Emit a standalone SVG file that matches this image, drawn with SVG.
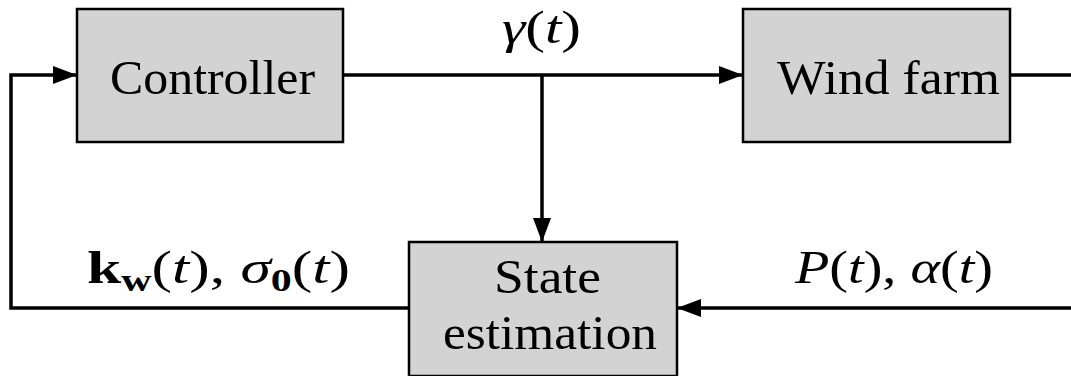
<svg xmlns="http://www.w3.org/2000/svg" width="1071" height="376" viewBox="0 0 1071 376">
<style>
.box{fill:#d3d3d3;stroke:#000;stroke-width:2.5}
.lbl{font-family:"Liberation Serif",serif;font-size:49px;fill:#000}
.math{font-family:"Liberation Serif",serif;font-size:47px;fill:#000}
.it{font-style:italic}
.bf{font-weight:bold}
.wire{fill:none;stroke:#000;stroke-width:3.5}
</style>
<defs>
<marker id="ah" markerWidth="24" markerHeight="18" refX="24" refY="9" orient="auto" markerUnits="userSpaceOnUse">
<path d="M0,0 L24,9 L0,18 z" fill="#000"/>
</marker>
</defs>
<rect width="1071" height="376" fill="#fff"/>
<g id="connectors">
<path class="wire" d="M343,75 H743" marker-end="url(#ah)"/>
<path class="wire" d="M1010,75 H1075 V308 H677" marker-end="url(#ah)"/>
<path class="wire" d="M542,75 V242" marker-end="url(#ah)"/>
<path class="wire" d="M409,308 H11 V75 H77" marker-end="url(#ah)"/>
</g>
<g id="controller">
<rect class="box" x="77" y="9" width="266" height="133"/>
<text class="lbl" x="110" y="94" textLength="205" lengthAdjust="spacingAndGlyphs">Controller</text>
</g>
<g id="windfarm">
<rect class="box" x="743" y="9" width="267" height="133"/>
<text class="lbl" x="777" y="94" textLength="223" lengthAdjust="spacingAndGlyphs">Wind farm</text>
</g>
<g id="stateestimation">
<rect class="box" x="409" y="242" width="268" height="134"/>
<text class="lbl" x="494" y="293" textLength="107" lengthAdjust="spacingAndGlyphs">State</text>
<text class="lbl" x="443" y="349" textLength="214" lengthAdjust="spacingAndGlyphs">estimation</text>
</g>
<g id="labels">
<text class="math" x="502" y="43" textLength="79" lengthAdjust="spacingAndGlyphs"><tspan class="it">γ</tspan>(<tspan class="it">t</tspan>)</text>
<text class="math" x="87" y="283" textLength="263" lengthAdjust="spacingAndGlyphs"><tspan class="bf">k</tspan><tspan class="bf" font-size="32" dy="8">w</tspan><tspan dy="-8">(</tspan><tspan class="it">t</tspan>),  <tspan class="it">σ</tspan><tspan class="bf" font-size="32" dy="8">0</tspan><tspan dy="-8">(</tspan><tspan class="it">t</tspan>)</text>
<text class="math" x="795" y="283" textLength="198" lengthAdjust="spacingAndGlyphs"><tspan class="it">P</tspan>(<tspan class="it">t</tspan>), <tspan class="it">α</tspan>(<tspan class="it">t</tspan>)</text>
</g>
</svg>
